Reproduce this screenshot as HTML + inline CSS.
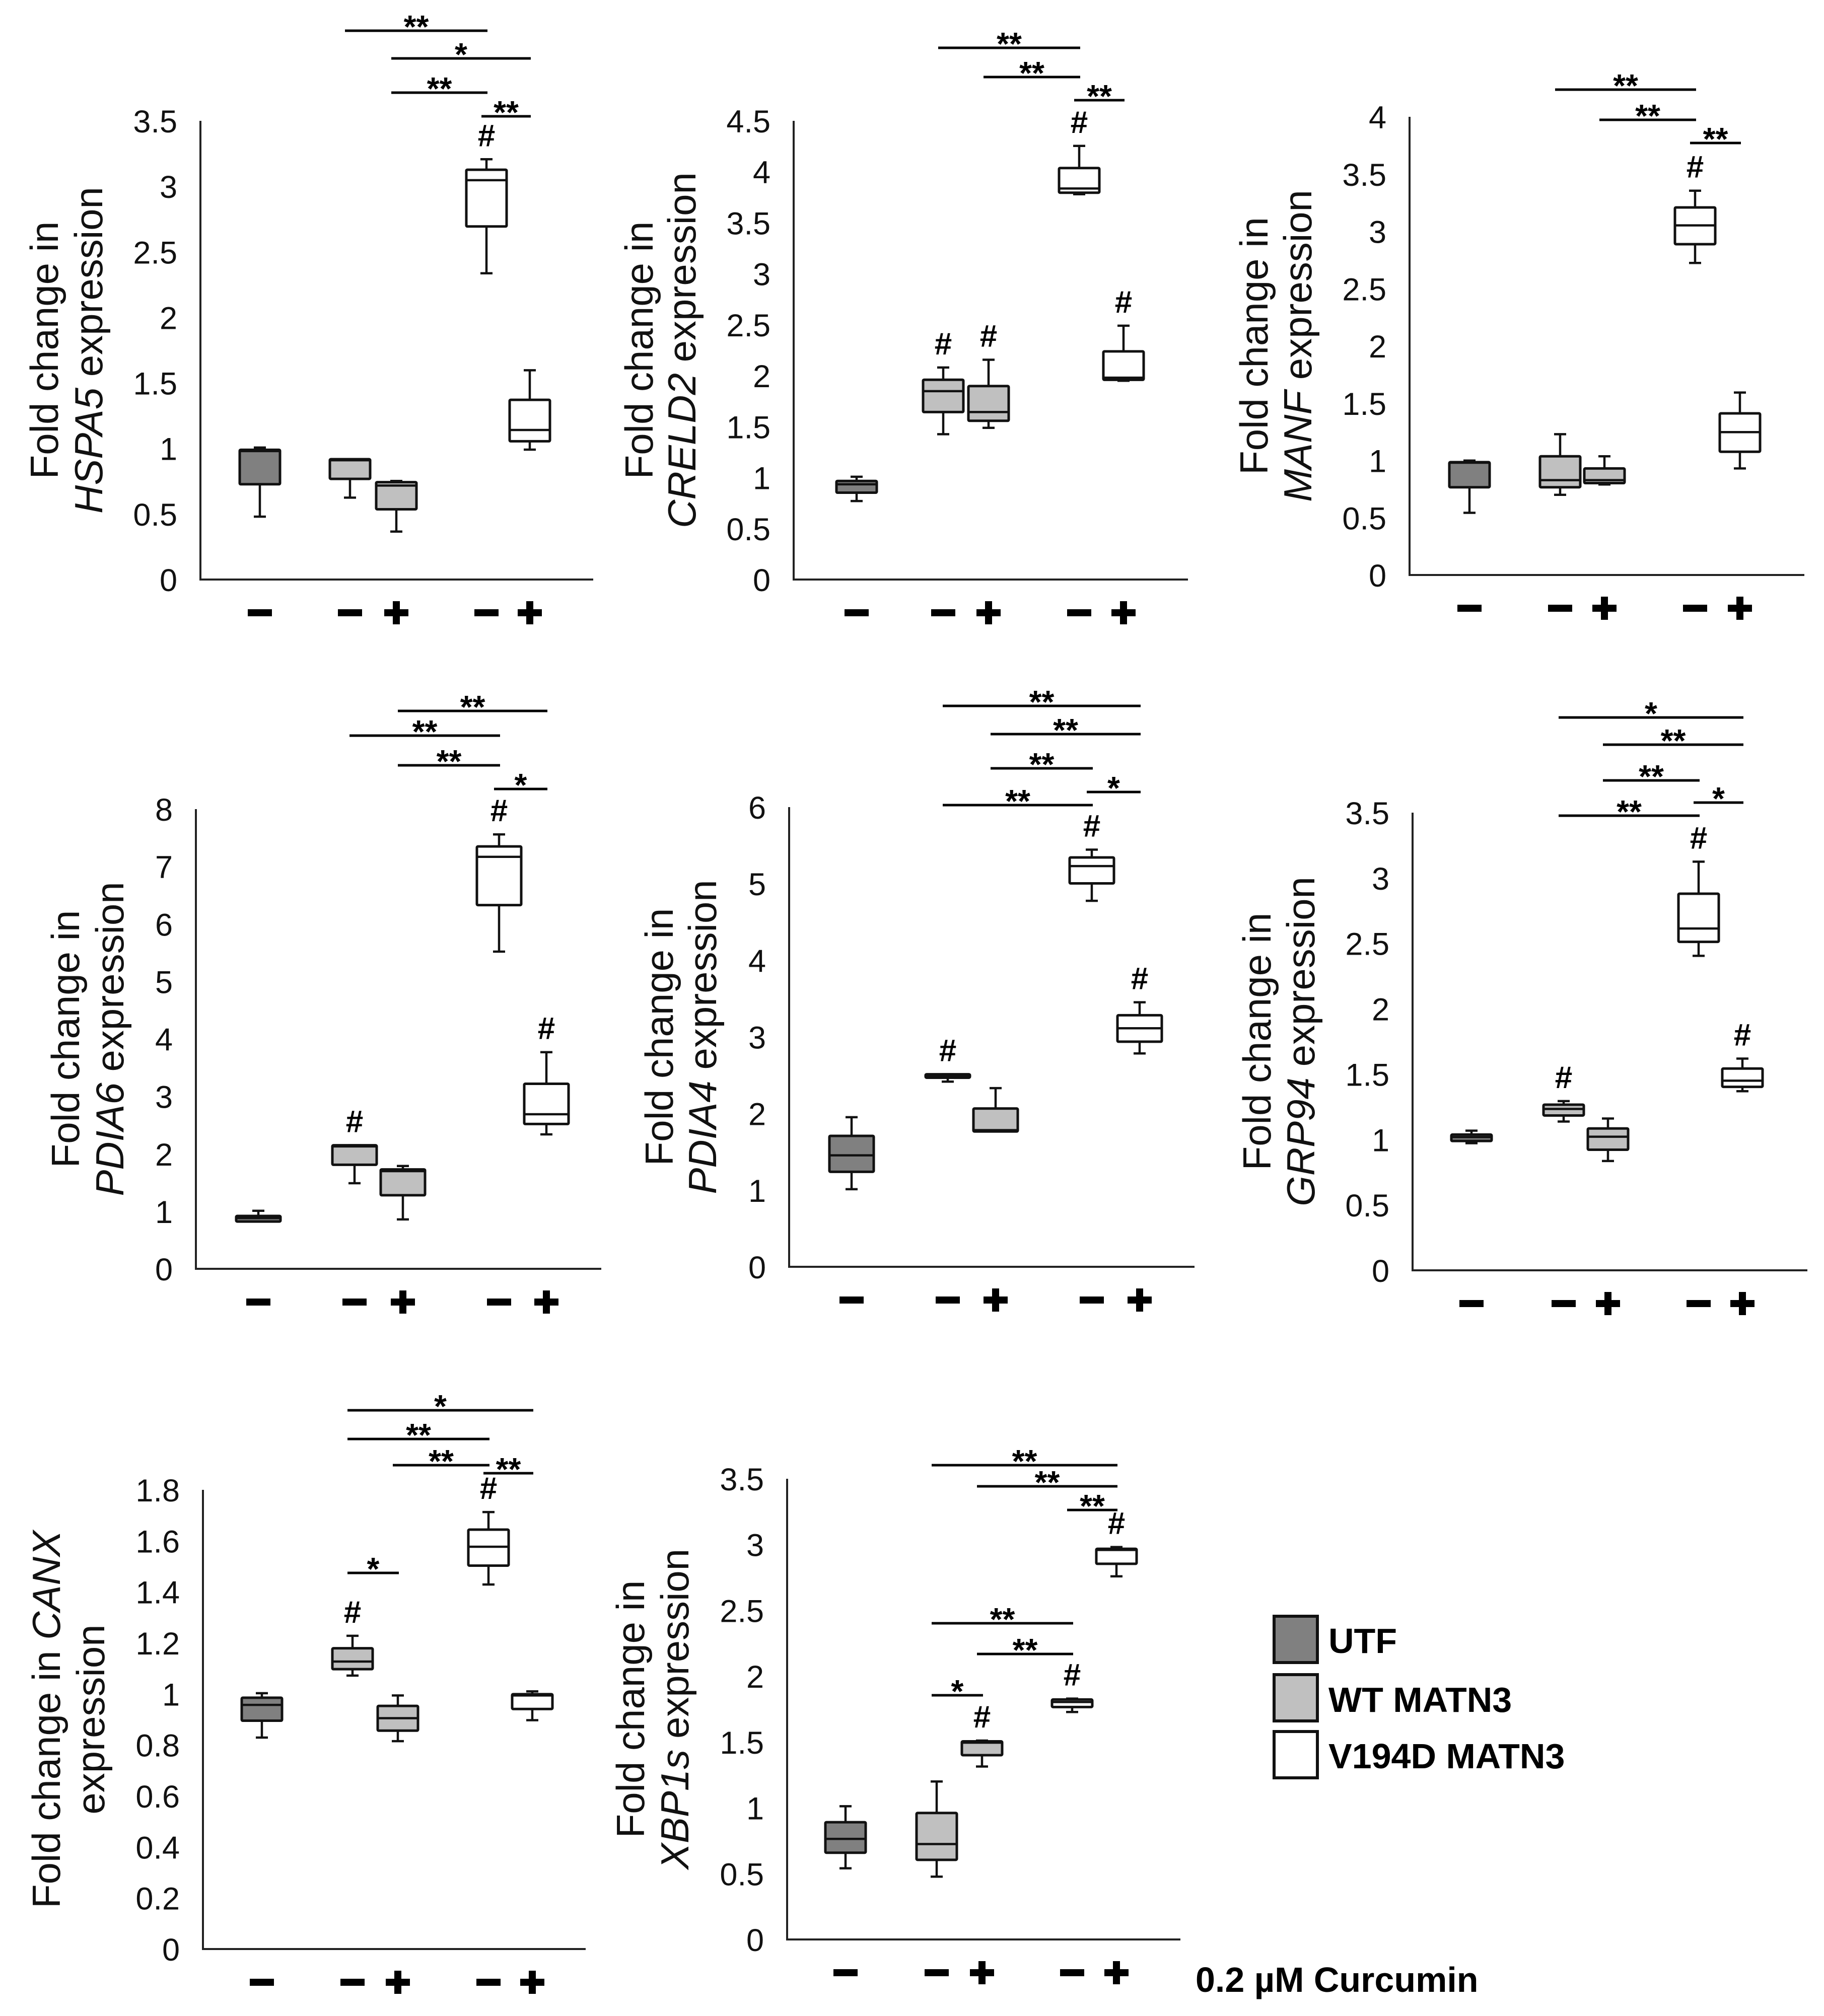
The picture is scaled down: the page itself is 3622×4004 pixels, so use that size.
<!DOCTYPE html>
<html><head><meta charset="utf-8"><style>
html,body{margin:0;padding:0;background:#fff}
svg{display:block}
text{font-family:"Liberation Sans",Arial,sans-serif}
</style></head><body>
<svg id="fig" xmlns="http://www.w3.org/2000/svg" width="3622" height="4004" viewBox="0 0 3622 4004">
<rect width="3622" height="4004" fill="#fff"/>
<g id="panels"></g>
<g id="legend">
  <g>
    <rect x="2530" y="3210" width="86" height="92" fill="#808080" stroke="#111" stroke-width="6"/>
    <text x="2638" y="3283" font-size="70" font-weight="bold">UTF</text>
  </g>
  <g>
    <rect x="2530" y="3326" width="86" height="92" fill="#c0c0c0" stroke="#111" stroke-width="6"/>
    <text x="2638" y="3400" font-size="70" font-weight="bold">WT MATN3</text>
  </g>
  <g>
    <rect x="2530" y="3439" width="86" height="92" fill="#fff" stroke="#111" stroke-width="6"/>
    <text x="2638" y="3512" font-size="70" font-weight="bold">V194D MATN3</text>
  </g>
</g>
<text x="2374" y="3956" font-size="70" font-weight="bold">0.2 µM Curcumin</text>
</svg>
<script>
const groups = ['UTF', 'WT MATN3 -', 'WT MATN3 +', 'V194D MATN3 -', 'V194D MATN3 +'];
const groupFills = ['#808080', '#c0c0c0', '#c0c0c0', '#ffffff', '#ffffff'];
const curcumin = [false, false, true, false, true];

// [low whisker, q1, median, q3, high whisker]
const hspa5Stats = [[0.48,0.727,0.98,0.99,1.007],[0.625,0.768,0.91,0.918,0.918],[0.366,0.536,0.717,0.743,0.752],[2.337,2.694,3.047,3.127,3.207],[0.991,1.055,1.141,1.371,1.597]];
const creld2Stats = [[0.77,0.852,0.934,0.967,1.008],[1.426,1.643,1.848,1.96,2.08],[1.488,1.557,1.643,1.898,2.156],[3.78,3.795,3.836,4.037,4.254],[1.95,1.959,1.98,2.238,2.49]];
const manfStats = [[0.543,0.766,0.98,0.985,0.999],[0.70,0.766,0.828,1.036,1.229],[0.79,0.802,0.828,0.93,1.036],[2.724,2.888,3.052,3.209,3.355],[0.93,1.076,1.247,1.411,1.593]];
const pdia6Stats = [[0.823,0.823,0.883,0.92,1.01],[1.49,1.81,2.13,2.15,2.15],[0.86,1.28,1.70,1.73,1.79],[5.52,6.33,7.17,7.35,7.56],[2.34,2.52,2.69,3.22,3.77]];
const pdia4Stats = [[1.013,1.24,1.455,1.709,1.953],[2.417,2.468,2.49,2.513,2.513],[1.766,1.766,1.783,2.066,2.332],[4.777,5.004,5.23,5.343,5.445],[2.785,2.938,3.113,3.283,3.453]];
const grp94Stats = [[0.972,0.989,1.019,1.038,1.068],[1.138,1.184,1.234,1.267,1.294],[0.836,0.922,1.022,1.085,1.161],[2.405,2.512,2.614,2.88,3.125],[1.37,1.403,1.45,1.543,1.619]];
const canxStats = [[0.829,0.895,0.957,0.985,1.003],[1.072,1.097,1.127,1.179,1.228],[0.815,0.856,0.905,0.953,0.994],[1.429,1.503,1.577,1.644,1.713],[0.897,0.941,0.994,0.999,1.01]];
const xbp1sStats = [[0.541,0.659,0.764,0.891,1.012],[0.477,0.605,0.725,0.961,1.2],[1.314,1.4,1.495,1.505,1.511],[1.728,1.766,1.804,1.823,1.83],[2.759,2.854,2.959,2.968,2.981]];

const hspa5Ticks = [0,0.5,1,1.5,2,2.5,3,3.5];
const creld2Ticks = [0,0.5,1,1.5,2,2.5,3,3.5,4,4.5];
const manfTicks = [0,0.5,1,1.5,2,2.5,3,3.5,4];
const pdia6Ticks = [0,1,2,3,4,5,6,7,8];
const pdia4Ticks = [0,1,2,3,4,5,6];
const grp94Ticks = [0,0.5,1,1.5,2,2.5,3,3.5];
const canxTicks = [0,0.2,0.4,0.6,0.8,1,1.2,1.4,1.6,1.8];
const xbp1sTicks = [0,0.5,1,1.5,2,2.5,3,3.5];

// groups marked with # (vs UTF)
const hspa5Hash = [3];
const creld2Hash = [1,2,3,4];
const manfHash = [3];
const pdia6Hash = [1,3,4];
const pdia4Hash = [1,3,4];
const grp94Hash = [1,3,4];
const canxHash = [1,3];
const xbp1sHash = [2,3,4];

// significance comparisons [group a, group b, label]
const hspa5Sig = [[1,3,'**'],[2,4,'*'],[2,3,'**'],[3,4,'**']];
const creld2Sig = [[1,3,'**'],[2,3,'**'],[3,4,'**']];
const manfSig = [[1,3,'**'],[2,3,'**'],[3,4,'**']];
const pdia6Sig = [[2,4,'**'],[1,3,'**'],[2,3,'**'],[3,4,'*']];
const pdia4Sig = [[1,4,'**'],[2,4,'**'],[2,3,'**'],[3,4,'*'],[1,3,'**']];
const grp94Sig = [[1,4,'*'],[2,4,'**'],[2,3,'**'],[3,4,'*'],[1,3,'**']];
const canxSig = [[1,4,'*'],[1,3,'**'],[2,3,'**'],[3,4,'**'],[1,2,'*']];
const xbp1sSig = [[1,4,'**'],[2,4,'**'],[3,4,'**'],[1,3,'**'],[2,3,'**'],[1,2,'*']];

// layout (pixel positions only)
const layout = [
 {name:'hspa5', gene:'HSPA5', stats:hspa5Stats, ticks:hspa5Ticks, hash:hspa5Hash, sig:hspa5Sig, sigY:[61,116,184,231], ax:398, yTop:240, yZero:1151, xEnd:1178, off:[118,297,389,568,654], bw:80, t1:283, t2:195, canx:false},
 {name:'creld2', gene:'CRELD2', stats:creld2Stats, ticks:creld2Ticks, hash:creld2Hash, sig:creld2Sig, sigY:[95,153,199], ax:1576, yTop:240, yZero:1151, xEnd:2359, off:[125,297,387,567,655], bw:80, t1:280, t2:195},
 {name:'manf', gene:'MANF', stats:manfStats, ticks:manfTicks, hash:manfHash, sig:manfSig, sigY:[178,238,284], ax:2799, yTop:232, yZero:1142, xEnd:3583, off:[119,299,387,567,656], bw:80, t1:282, t2:195},
 {name:'pdia6', gene:'PDIA6', stats:pdia6Stats, ticks:pdia6Ticks, hash:pdia6Hash, sig:pdia6Sig, sigY:[1412,1461,1520,1567], ax:389, yTop:1607, yZero:2520, xEnd:1194, off:[124,315,411,602,696], bw:88, t1:232, t2:144},
 {name:'pdia4', gene:'PDIA4', stats:pdia4Stats, ticks:pdia4Ticks, hash:pdia4Hash, sig:pdia4Sig, sigY:[1402,1458,1526,1573,1599], ax:1567, yTop:1603, yZero:2516, xEnd:2372, off:[124,315,410,601,696], bw:88, t1:231, t2:145},
 {name:'grp94', gene:'GRP94', stats:grp94Stats, ticks:grp94Ticks, hash:grp94Hash, sig:grp94Sig, sigY:[1425,1479,1550,1594,1620], ax:2805, yTop:1614, yZero:2523, xEnd:3589, off:[117,300,388,568,655], bw:80, t1:282, t2:195},
 {name:'canx', gene:'CANX', stats:canxStats, ticks:canxTicks, hash:canxHash, sig:canxSig, sigY:[2801,2858,2910,2926,3124], ax:403, yTop:2959, yZero:3871, xEnd:1163, off:[117,297,387,567,654], bw:80, t1:284, t2:196, canx:true},
 {name:'xbp1s', gene:'XBP1s', stats:xbp1sStats, ticks:xbp1sTicks, hash:xbp1sHash, sig:xbp1sSig, sigY:[2910,2952,2999,3224,3285,3367], ax:1563, yTop:2937, yZero:3852, xEnd:2344, off:[116,297,387,566,654], bw:80, t1:284, t2:196}
];

const NS = 'http://www.w3.org/2000/svg';
function mk(tag, attrs, parent){
  const e = document.createElementNS(NS, tag);
  for (const k in attrs) e.setAttribute(k, attrs[k]);
  if (parent) parent.appendChild(e);
  return e;
}
const root = document.getElementById('panels');

layout.forEach(p => {
  const g = mk('g', {}, root);
  
  
  const maxV = p.ticks[p.ticks.length-1];
  const y = v => p.yZero - (v / maxV) * (p.yZero - p.yTop);
  const x = i => p.ax + p.off[i];

  const ya = mk('line', {x1:p.ax, y1:p.yTop, x2:p.ax, y2:p.yZero+2, stroke:'#222', 'stroke-width':4}, g);
  
  
  const xa = mk('line', {x1:p.ax-2, y1:p.yZero, x2:p.xEnd, y2:p.yZero, stroke:'#222', 'stroke-width':4}, g);
  
  

  p.ticks.forEach(t => {
    const tl = mk('text', {x:p.ax-46, y:y(t)+23, 'font-size':63, 'text-anchor':'end', fill:'#111'}, g);
    tl.textContent = String(t);
    
    
  });

  const cy = (p.yTop + p.yZero) / 2;
  const l1 = mk('text', {transform:`translate(${p.ax-p.t1},${cy}) rotate(-90)`, 'font-size':78, 'text-anchor':'middle', fill:'#111'}, g);
  
  
  const l2 = mk('text', {transform:`translate(${p.ax-p.t2},${cy}) rotate(-90)`, 'font-size':78, 'text-anchor':'middle', fill:'#111'}, g);
  
  
  if (p.canx) {
    l1.appendChild(document.createTextNode('Fold change in '));
    const it = mk('tspan', {'font-style':'italic'}, l1); it.textContent = p.gene;
    l2.textContent = 'expression';
  } else {
    l1.textContent = 'Fold change in';
    const it = mk('tspan', {'font-style':'italic'}, l2); it.textContent = p.gene;
    l2.appendChild(document.createTextNode(' expression'));
  }

  p.stats.forEach((s, i) => {
    const bg = mk('g', {}, g);
    
    
    const cx = x(i), hw = p.bw/2, cap = 12;
    const st = {stroke:'#111', 'stroke-width':4.5, fill:'none'};
    mk('line', Object.assign({x1:cx, y1:y(s[0]), x2:cx, y2:y(s[1])}, st), bg);
    mk('line', Object.assign({x1:cx, y1:y(s[3]), x2:cx, y2:y(s[4])}, st), bg);
    mk('line', Object.assign({x1:cx-cap, y1:y(s[0]), x2:cx+cap, y2:y(s[0])}, st), bg);
    mk('line', Object.assign({x1:cx-cap, y1:y(s[4]), x2:cx+cap, y2:y(s[4])}, st), bg);
    mk('rect', {x:cx-hw, y:y(s[3]), width:p.bw, height:Math.max(2, y(s[1])-y(s[3])), fill:groupFills[i], stroke:'#111', 'stroke-width':5, rx:2}, bg);
    mk('line', Object.assign({x1:cx-hw, y1:y(s[2]), x2:cx+hw, y2:y(s[2])}, st), bg);

    const sg = mk('g', {fill:'#000'}, g);
    
    
    const sy = p.yZero + 66;
    mk('rect', {x:cx-24, y:sy-7, width:48, height:14}, sg);
    if (curcumin[i]) mk('rect', {x:cx-7, y:sy-23, width:14, height:46}, sg);
  });

  p.hash.forEach(i => {
    const h = mk('text', {x:x(i), y:y(p.stats[i][4])-26, 'font-size':62, 'font-weight':'bold', 'text-anchor':'middle', fill:'#000'}, g);
    h.textContent = '#';
    
    
  });

  p.sig.forEach((c, k) => {
    const yy = p.sigY[k];
    const sgb = mk('g', {}, g);
    
    
    const x1 = x(c[0]) - 10, x2 = x(c[1]) + 2;
    mk('line', {x1:x1, y1:yy, x2:x2, y2:yy, stroke:'#000', 'stroke-width':5}, sgb);
    const t = mk('text', {x:(x1+x2)/2, y:yy+14, 'font-size':64, 'font-weight':'bold', 'text-anchor':'middle', fill:'#000'}, sgb);
    t.textContent = c[2];
  });
});
</script>
</body></html>
